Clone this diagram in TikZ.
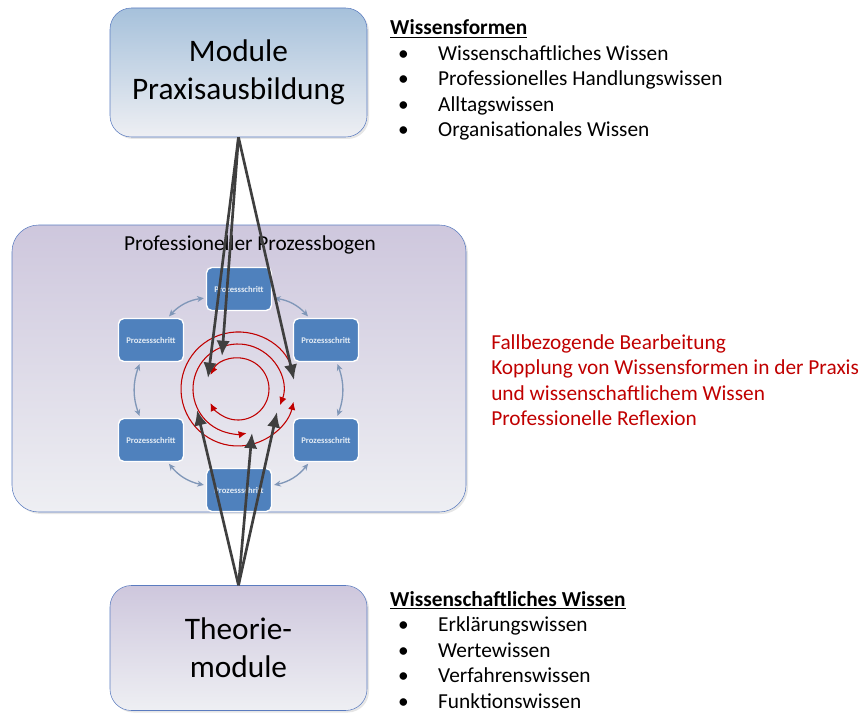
\documentclass[tikz,border=0pt]{standalone}
\usepackage{fontspec}
\setmainfont{Carlito}
\usetikzlibrary{arrows.meta,positioning,shadows}

\definecolor{kastenrand}{HTML}{5B7CC0}
\definecolor{blauoben}{HTML}{A6C1DB}
\definecolor{lilaoben}{HTML}{CEC7DD}
\definecolor{hellunten}{HTML}{EEEFF3}
\definecolor{schrittblau}{HTML}{4F81BD}
\definecolor{ringgrau}{HTML}{8097B8}
\definecolor{pfeilgrau}{HTML}{3F3F3F}
\definecolor{dunkelrot}{HTML}{C00000}

\newcommand{\punkt}{\makebox[36pt][l]{\hspace{6pt}\textbullet}}

\begin{document}
\begin{tikzpicture}[x=0.75pt, y=0.75pt,
    modul/.style={draw=kastenrand, rounded corners=16pt, top color=lilaoben, bottom color=hellunten, minimum width=192.75pt, minimum height=96.75pt, align=center, font=\fontsize{23.5}{28.5}\selectfont, drop shadow={shadow xshift=1.5pt, shadow yshift=-1.5pt, opacity=0.2}},
    schritt/.style={draw=white, line width=1pt, fill=schrittblau, rounded corners=4pt, minimum width=48.75pt, minimum height=32.25pt, inner sep=1pt, text=white!85!schrittblau, font=\fontsize{6.5}{8}\selectfont\bfseries},
    ring/.style={draw=ringgrau, line width=1pt, {Stealth[length=5pt,width=4.5pt]}-{Stealth[length=5pt,width=4.5pt]}, shorten <=1.5pt, shorten >=1.5pt, bend left=20},
    kreis/.style={draw=dunkelrot, line width=0.8pt, {Latex[length=6pt,width=5.5pt]}-{Latex[length=6pt,width=5.5pt]}},
    pfeil/.style={draw=pfeilgrau, line width=2pt, -{Latex[length=11.5pt,width=10pt]}},
    liste/.style={align=left, inner sep=0pt, font=\fontsize{16}{19.1}\selectfont}]
    \useasboundingbox (0,0) rectangle (863,-713);

    % Module
    \node[modul, top color=blauoben] (praxis) at (238.5,-72.5) {Module\\Praxisausbildung};
    \node[modul, minimum height=93.75pt] (theorie) at (238.5,-648) {Theorie-\\module};

    % Prozessbogen
    \node[modul, rounded corners=20pt, minimum width=340.5pt, minimum height=215.25pt] (bogen) at (239,-368.5) {};
    \node[font=\fontsize{16}{19}\selectfont, inner sep=0pt] (titel) at (250,-245) {Professioneller Prozessbogen};

    % Prozessschritte
    \node[schritt] (s1) at (239,-289) {Prozessschritt};
    \node[schritt] (s2) at (326,-340) {Prozessschritt};
    \node[schritt] (s3) at (326,-440) {Prozessschritt};
    \node[schritt] (s4) at (239,-490) {Prozessschritt};
    \node[schritt] (s5) at (151,-440) {Prozessschritt};
    \node[schritt] (s6) at (151,-340) {Prozessschritt};

    \draw[ring] (s1.345) to (s2.127);
    \draw[ring] (s2.296) to (s3.64);
    \draw[ring] (s3.233) to (s4.8);
    \draw[ring] (s4.172) to (s5.307);
    \draw[ring] (s5.116) to (s6.244);
    \draw[ring] (s6.53) to (s1.195);

    % Kreise
    \coordinate (mitte) at (238,-389);
    \draw[kreis] (mitte) ++(153:31) arc[start angle=153, end angle=-153, radius=31];
    \draw[kreis] (mitte) ++(-21:45) arc[start angle=-21, end angle=281, radius=45];
    \draw[kreis] (mitte) ++(14:57) arc[start angle=14, end angle=347, radius=57];

    % Pfeile
    \coordinate (z1) at (208,-378);
    \coordinate (z2) at (222,-356);
    \coordinate (z3) at (294,-380);
    \coordinate (z4) at (197,-410);
    \coordinate (z5) at (252,-433);
    \coordinate (z6) at (277,-412);
    \draw[pfeil] (praxis.south) -- (z1);
    \draw[pfeil] (praxis.south) -- (z2);
    \draw[pfeil] (praxis.south) -- (z3);
    \draw[pfeil] (theorie.north) -- (z4);
    \draw[pfeil] (theorie.north) -- (z5);
    \draw[pfeil] (theorie.north) -- (z6);

    % Texte
    \node[liste, below right=9pt and 17pt of praxis.north east] (formen) {\underline{\textbf{Wissensformen}}\\
        \punkt Wissenschaftliches Wissen\\
        \punkt Professionelles Handlungswissen\\
        \punkt Alltagswissen\\
        \punkt Organisationales Wissen};
    \node[liste, text=dunkelrot, anchor=north west] (fall) at (491,-334) {Fallbezogende Bearbeitung\\
        Kopplung von Wissensformen in der Praxis\\
        und wissenschaftlichem Wissen\\
        Professionelle Reflexion};
    \node[liste, below right=4.5pt and 17pt of theorie.north east] (wissen) {\underline{\textbf{Wissenschaftliches Wissen}}\\
        \punkt Erklärungswissen\\
        \punkt Wertewissen\\
        \punkt Verfahrenswissen\\
        \punkt Funktionswissen};
\end{tikzpicture}
\end{document}
